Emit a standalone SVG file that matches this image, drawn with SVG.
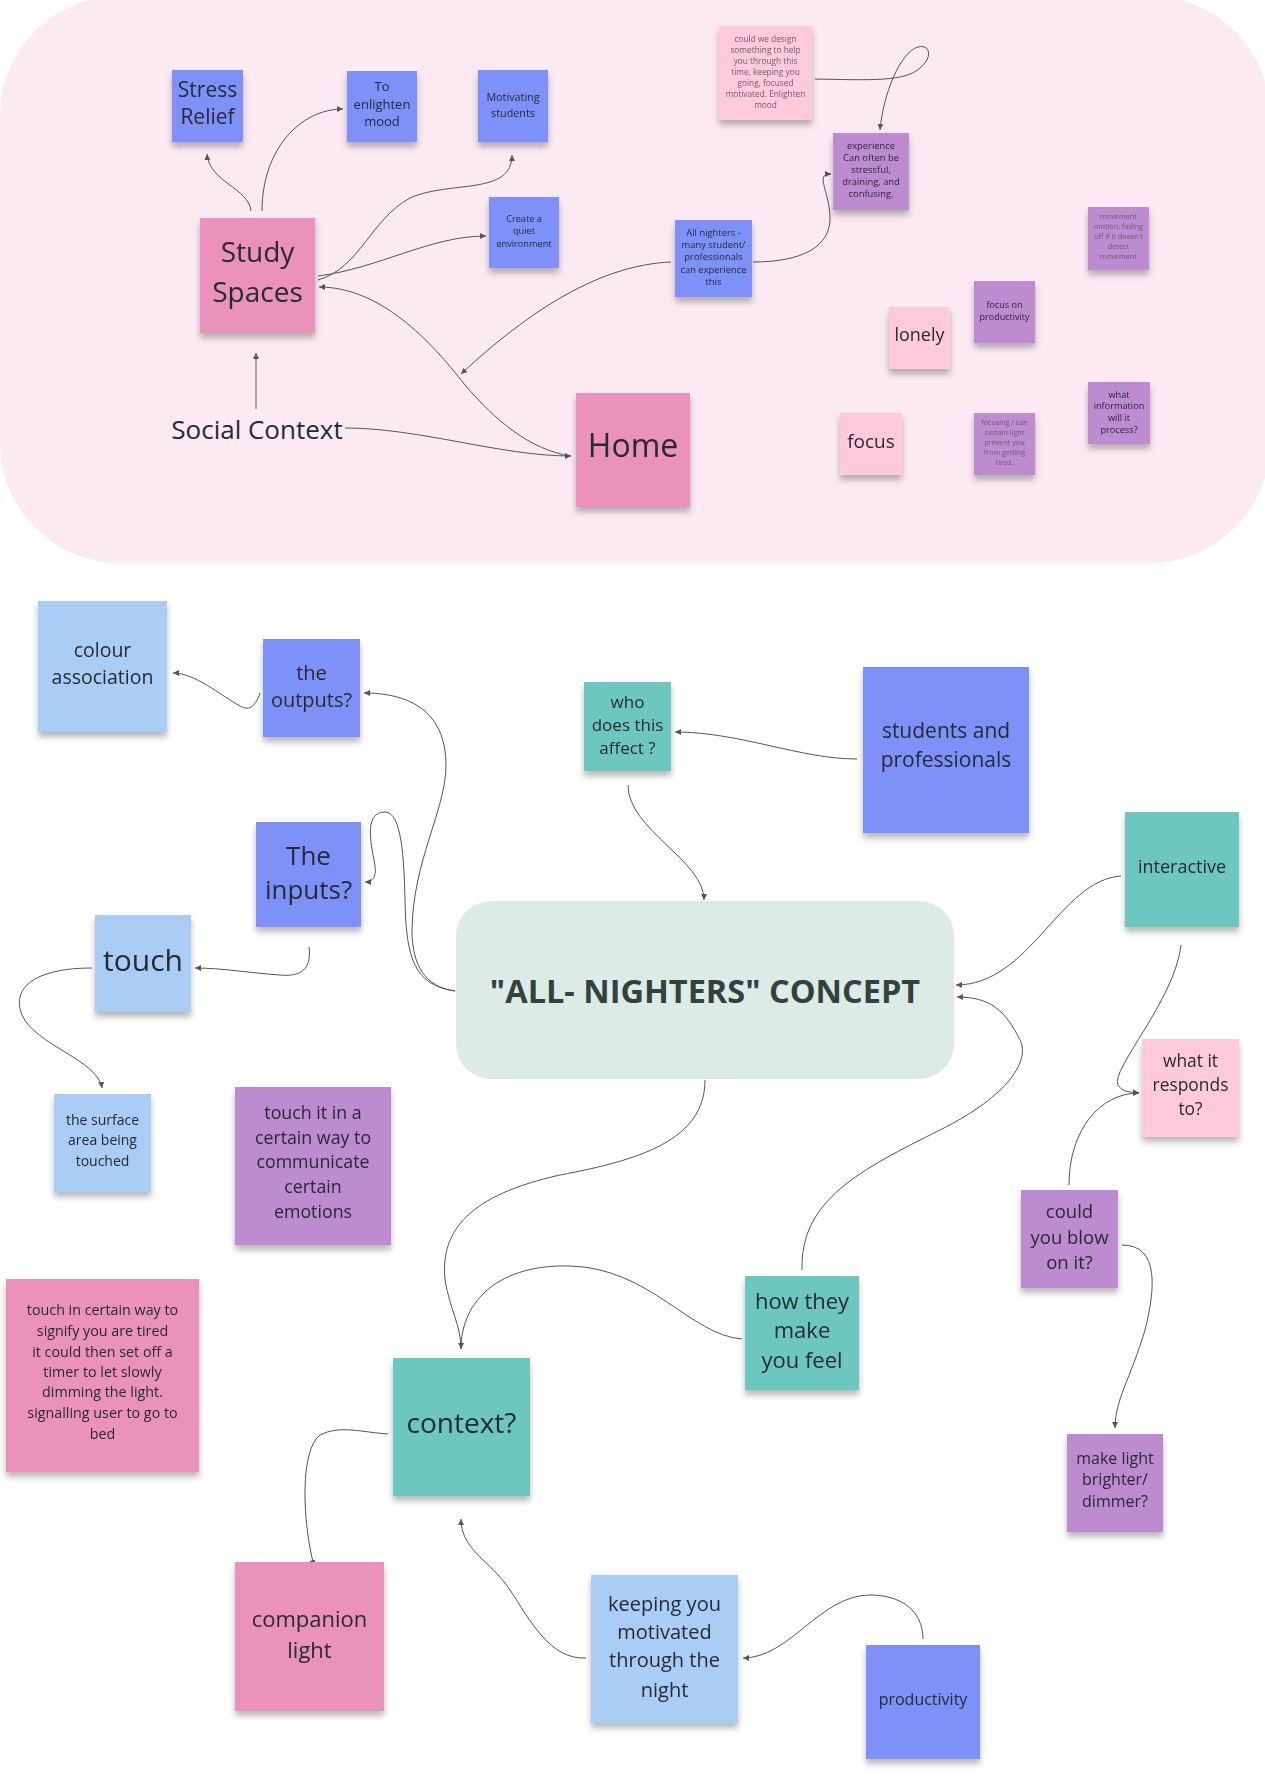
<svg xmlns="http://www.w3.org/2000/svg" width="1265" height="1778" viewBox="0 0 1265 1778">
<defs>
<filter id="ds" x="-20%" y="-20%" width="140%" height="150%"><feDropShadow dx="0" dy="5" stdDeviation="3" flood-color="#000" flood-opacity="0.28"/></filter>
<marker id="ah" markerWidth="8" markerHeight="8" refX="6" refY="3" orient="auto" markerUnits="userSpaceOnUse"><path d="M0,0 L6,3 L0,6 z" fill="#555"/></marker>
<style>
text{font-family:"Open Sans","Noto Sans","Liberation Sans",sans-serif;fill:#262a33;text-anchor:middle;dominant-baseline:central}
.n{filter:url(#ds)}
.blue{fill:#7e91f8}.pink{fill:#ea92ba}.lpink{fill:#ffcbdb}.purple{fill:#bd8bcf}.teal{fill:#6cc8be}.lblue{fill:#a9cdf4}
.c path{fill:none;stroke:#555;stroke-width:1;marker-end:url(#ah)}
.c path.na{marker-end:none}
.faint{fill:#6e5a73}
</style>
</defs>
<rect width="1265" height="1778" fill="#ffffff"/>
<rect x="0" y="-4" width="1270" height="567" rx="120" fill="#fbeaf2"/>

<g class="c" id="connectors">
<path d="M251,211 C 249,188 209,182 207,154"/>
<path d="M262,211 C 262,150 300,109 343,109"/>
<path d="M318,280 C 360,268 370,220 410,198 C 450,180 512,196 512,155"/>
<path d="M318,276 C 380,268 430,236 486,236"/>
<path d="M571,456 C 530,450 495,420 465,385 C 430,340 380,287 319,287"/>
<path d="M345,428 C 420,428 500,456 571,456"/>
<path d="M256,409 L256,353"/>
<path d="M671,262 C 600,265 530,310 461,374"/>
<path d="M753,262 C 800,262 832,248 830,215 C 828,188 815,174 831,174"/>
<path d="M815,79 C 870,80 905,82 920,68 C 935,55 928,44 918,47 C 900,52 883,95 880,130"/>

<path d="M260,693 C 256,705 250,712 240,706 C 220,695 195,673 173,673"/>
<path d="M455,991 C 425,987 412,965 412,930 C 413,860 446,810 446,765 C 446,720 420,693 364,693"/>
<path d="M455,991 C 415,985 406,960 405,900 C 404,860 402,812 385,812 C 365,812 370,840 374,860 C 378,878 372,882 365,882"/>
<path d="M309,947 C 312,970 300,977 280,975 C 250,973 222,968 195,968"/>
<path d="M92,968 C 40,968 10,985 22,1015 C 35,1045 98,1060 102,1088"/>
<path d="M628,785 C 628,830 704,860 704,900"/>
<path d="M857,759 C 800,759 740,732 675,732"/>
<path d="M1121,876 C 1060,880 1030,985 956,985"/>
<path d="M1181,945 C 1175,1000 1110,1070 1118,1085 C 1122,1092 1130,1092 1139,1093"/>
<path d="M1069,1185 C 1069,1130 1100,1093 1139,1093"/>
<path d="M802,1270 C 800,1200 860,1170 940,1130 C 1010,1095 1030,1060 1020,1040 C 1005,1010 990,997 957,997"/>
<path d="M705,1080 C 705,1140 640,1160 560,1175 C 470,1195 440,1230 445,1280 C 450,1310 461,1325 461,1349"/>
<path d="M742,1339 C 690,1335 650,1268 570,1266 C 500,1264 461,1300 461,1349" class="na"/>
<path d="M388,1434 C 360,1432 340,1425 320,1435 C 300,1450 302,1520 314,1566"/>
<path d="M586,1658 C 550,1660 530,1620 510,1590 C 490,1560 461,1550 461,1519"/>
<path d="M923,1639 C 923,1610 900,1595 870,1595 C 820,1595 790,1658 743,1658"/>
<path d="M1122,1245 C 1160,1245 1155,1290 1145,1330 C 1130,1380 1115,1400 1115,1428"/>
</g>

<g id="stress-relief" class="n"><rect class="blue" x="172" y="70" width="71" height="72"/><text x="207.5" y="89" font-size="21">Stress</text><text x="207.5" y="116" font-size="21">Relief</text></g>
<g id="enlighten" class="n"><rect class="blue" x="347" y="71" width="70" height="71"/><text x="382" y="86" font-size="13">To</text><text x="382" y="104" font-size="13">enlighten</text><text x="382" y="121" font-size="13">mood</text></g>
<g id="motivating" class="n"><rect class="blue" x="478" y="70" width="70" height="72"/><text x="513" y="96" font-size="10.8">Motivating</text><text x="513" y="112" font-size="10.8">students</text></g>
<g id="quiet" class="n"><rect class="blue" x="489" y="197" width="70" height="71"/><text x="524" y="218" font-size="9.2">Create a</text><text x="524" y="230" font-size="9.2">quiet</text><text x="524" y="243" font-size="9.2">environment</text></g>
<g id="study-spaces" class="n"><rect class="pink" x="200" y="218" width="115" height="115"/><text x="257.5" y="251" font-size="28">Study</text><text x="257.5" y="291" font-size="28">Spaces</text></g>
<g id="social-context"><text x="257" y="429" font-size="26">Social Context</text></g>
<g id="home" class="n"><rect class="pink" x="576" y="393" width="114" height="114"/><text x="633" y="444" font-size="32">Home</text></g>
<g id="design" class="n"><rect class="lpink" x="719" y="26" width="93" height="94"/>
<text font-size="8.3" class="faint"><tspan x="765.5" y="38">could we design</tspan><tspan x="765.5" y="49">something to help</tspan><tspan x="765.5" y="60">you through this</tspan><tspan x="765.5" y="71">time, keeping you</tspan><tspan x="765.5" y="82">going, focused</tspan><tspan x="765.5" y="93">motivated. Enlighten</tspan><tspan x="765.5" y="104">mood</tspan></text></g>
<g id="experience" class="n"><rect class="purple" x="833" y="133" width="76" height="77"/>
<text font-size="9.4"><tspan x="871" y="145">experience</tspan><tspan x="871" y="157">Can often be</tspan><tspan x="871" y="169">stressful,</tspan><tspan x="871" y="181">draining, and</tspan><tspan x="871" y="193">confusing.</tspan></text></g>
<g id="all-nighters" class="n"><rect class="blue" x="675" y="220" width="77" height="77"/>
<text font-size="9.4"><tspan x="713.5" y="232">All nighters -</tspan><tspan x="713.5" y="244">many student/</tspan><tspan x="713.5" y="256">professionals</tspan><tspan x="713.5" y="269">can experience</tspan><tspan x="713.5" y="281">this</tspan></text></g>
<g id="movement" class="n"><rect class="purple" x="1088" y="207" width="61" height="63"/>
<text font-size="7.3" class="faint"><tspan x="1118.5" y="216">movement</tspan><tspan x="1118.5" y="226">motion, fading</tspan><tspan x="1118.5" y="236">off if it doesn't</tspan><tspan x="1118.5" y="246">detect</tspan><tspan x="1118.5" y="256">movement</tspan></text></g>
<g id="focus-productivity" class="n"><rect class="purple" x="974" y="281" width="61" height="62"/><text x="1004.5" y="304" font-size="9">focus on</text><text x="1004.5" y="316" font-size="9">productivity</text></g>
<g id="lonely" class="n"><rect class="lpink" x="889" y="307" width="61" height="62"/><text x="919.5" y="334" font-size="18">lonely</text></g>
<g id="focus" class="n"><rect class="lpink" x="840" y="413" width="62" height="62"/><text x="871" y="441" font-size="19">focus</text></g>
<g id="focusing" class="n"><rect class="purple" x="974" y="413" width="61" height="62"/>
<text font-size="7.2" class="faint"><tspan x="1004.5" y="422">focusing / can</tspan><tspan x="1004.5" y="432">certain light</tspan><tspan x="1004.5" y="442">prevent you</tspan><tspan x="1004.5" y="452">from getting</tspan><tspan x="1004.5" y="462">tired.</tspan></text></g>
<g id="information" class="n"><rect class="purple" x="1088" y="382" width="62" height="62"/>
<text font-size="9.2"><tspan x="1119" y="394">what</tspan><tspan x="1119" y="405">information</tspan><tspan x="1119" y="417">will it</tspan><tspan x="1119" y="429">process?</tspan></text></g>

<g id="colour-association" class="n"><rect class="lblue" x="38" y="601" width="129" height="131"/><text x="102.5" y="649" font-size="19.5">colour</text><text x="102.5" y="676" font-size="19.5">association</text></g>
<g id="outputs" class="n"><rect class="blue" x="263" y="639" width="97" height="98"/><text x="311.5" y="672" font-size="20">the</text><text x="311.5" y="699" font-size="20">outputs?</text></g>
<g id="inputs" class="n"><rect class="blue" x="256" y="822" width="105" height="105"/><text x="308.5" y="855" font-size="26">The</text><text x="308.5" y="889" font-size="26">inputs?</text></g>
<g id="touch" class="n"><rect class="lblue" x="95" y="915" width="96" height="97"/><text x="143" y="959" font-size="30">touch</text></g>
<g id="surface" class="n"><rect class="lblue" x="54" y="1094" width="97" height="98"/><text x="102.5" y="1119" font-size="14">the surface</text><text x="102.5" y="1139" font-size="14">area being</text><text x="102.5" y="1160" font-size="14">touched</text></g>
<g id="touch-emotions" class="n"><rect class="purple" x="235" y="1087" width="156" height="158"/>
<text font-size="17.8"><tspan x="313" y="1112">touch it in a</tspan><tspan x="313" y="1137">certain way to</tspan><tspan x="313" y="1161">communicate</tspan><tspan x="313" y="1186">certain</tspan><tspan x="313" y="1211">emotions</tspan></text></g>
<g id="concept"><rect x="456" y="901" width="498" height="178" rx="35" fill="#ddebe7"/><text x="705" y="990" font-size="32.5" font-weight="700" style="fill:#33423f">"ALL- NIGHTERS" CONCEPT</text></g>
<g id="who" class="n"><rect class="teal" x="584" y="682" width="87" height="89"/><text x="627.5" y="701" font-size="17">who</text><text x="627.5" y="724" font-size="17">does this</text><text x="627.5" y="747" font-size="17">affect ?</text></g>
<g id="students" class="n"><rect class="blue" x="863" y="667" width="166" height="166"/><text x="946" y="730" font-size="21">students and</text><text x="946" y="759" font-size="21">professionals</text></g>
<g id="interactive" class="n"><rect class="teal" x="1125" y="812" width="114" height="115"/><text x="1182" y="866" font-size="18">interactive</text></g>
<g id="responds" class="n"><rect class="lpink" x="1142" y="1039" width="97" height="98"/><text x="1190.5" y="1060" font-size="17.4">what it</text><text x="1190.5" y="1084" font-size="17.4">responds</text><text x="1190.5" y="1108" font-size="17.4">to?</text></g>
<g id="tired" class="n"><rect class="pink" x="6" y="1279" width="193" height="193"/>
<text font-size="14.3"><tspan x="102.5" y="1309">touch in certain way to</tspan><tspan x="102.5" y="1330">signify you are tired</tspan><tspan x="102.5" y="1351">it could then set off a</tspan><tspan x="102.5" y="1371">timer to let slowly</tspan><tspan x="102.5" y="1391">dimming the light.</tspan><tspan x="102.5" y="1412">signalling user to go to</tspan><tspan x="102.5" y="1433">bed</tspan></text></g>
<g id="context" class="n"><rect class="teal" x="393" y="1358" width="137" height="138"/><text x="461.5" y="1422" font-size="28">context?</text></g>
<g id="companion" class="n"><rect class="pink" x="235" y="1562" width="149" height="149"/><text x="309.5" y="1618" font-size="22">companion</text><text x="309.5" y="1649" font-size="22">light</text></g>
<g id="feel" class="n"><rect class="teal" x="745" y="1276" width="114" height="114"/><text x="802" y="1300" font-size="22">how they</text><text x="802" y="1329" font-size="22">make</text><text x="802" y="1359" font-size="22">you feel</text></g>
<g id="blow" class="n"><rect class="purple" x="1021" y="1190" width="97" height="98"/><text x="1069.5" y="1210" font-size="18.5">could</text><text x="1069.5" y="1236" font-size="18.5">you blow</text><text x="1069.5" y="1261" font-size="18.5">on it?</text></g>
<g id="brighter" class="n"><rect class="purple" x="1067" y="1434" width="96" height="98"/><text x="1115" y="1458" font-size="16">make light</text><text x="1115" y="1479" font-size="16">brighter/</text><text x="1115" y="1501" font-size="16">dimmer?</text></g>
<g id="keeping" class="n"><rect class="lblue" x="591" y="1575" width="147" height="148"/><text x="664.5" y="1603" font-size="20">keeping you</text><text x="664.5" y="1631" font-size="20">motivated</text><text x="664.5" y="1659" font-size="20">through the</text><text x="664.5" y="1689" font-size="20">night</text></g>
<g id="productivity" class="n"><rect class="blue" x="866" y="1645" width="114" height="114"/><text x="923" y="1699" font-size="16">productivity</text></g>
</svg>
